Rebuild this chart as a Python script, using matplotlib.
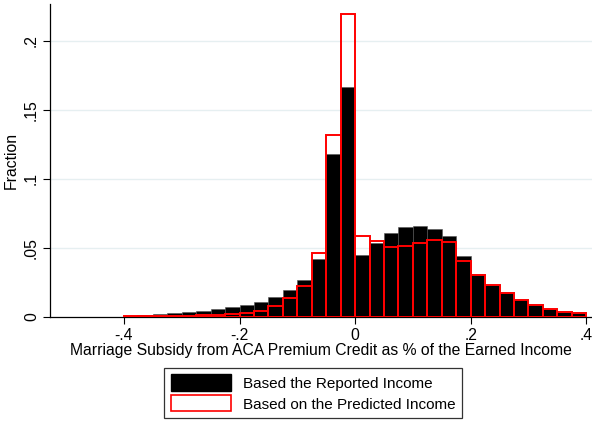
import numpy as np
import matplotlib
matplotlib.use('Agg')
import matplotlib.pyplot as plt
from matplotlib.patches import Patch

plt.rcParams['font.family'] = ['Liberation Sans', 'DejaVu Sans']

# histogram bins: 32 bins of width .025 starting at -.4
bin_start = -0.4
bin_width = 0.025

reported = [0.0007, 0.0015, 0.0020, 0.0029, 0.0034, 0.0043, 0.0058, 0.0072,
            0.0090, 0.0107, 0.0145, 0.0193, 0.0266, 0.0418, 0.1180, 0.1667,
            0.0447, 0.0536, 0.0607, 0.0650, 0.0657, 0.0636, 0.0585, 0.0440,
            0.0312, 0.0235, 0.0179, 0.0128, 0.0092, 0.0060, 0.0041, 0.0034]

predicted = [0.0005, 0.0007, 0.0008, 0.0010, 0.0010, 0.0013, 0.0018, 0.0025,
             0.0032, 0.0047, 0.0080, 0.0135, 0.0222, 0.0460, 0.1317, 0.2193,
             0.0587, 0.0550, 0.0510, 0.0517, 0.0534, 0.0560, 0.0544, 0.0404,
             0.0302, 0.0230, 0.0174, 0.0121, 0.0085, 0.0056, 0.0034, 0.0027]

xticks = [-0.4, -0.2, 0, 0.2, 0.4]
xtick_labels = ['-.4', '-.2', '0', '.2', '.4']
yticks = [0, 0.05, 0.1, 0.15, 0.2]
ytick_labels = ['0', '.05', '.1', '.15', '.2']

lefts = bin_start + bin_width * np.arange(len(reported))

fig = plt.figure(figsize=(5.92, 4.21), dpi=100)
ax = fig.add_axes([0.0845, 0.247, 0.9155, 0.7435])

ax.bar(lefts, reported, width=bin_width, align='edge', color='black',
       edgecolor='#555555', linewidth=0.4, zorder=2)
ax.bar(lefts, predicted, width=bin_width, align='edge', facecolor='none',
       edgecolor='#ff0000', linewidth=1.4, zorder=3)

ax.set_xlim(-0.528, 0.41)
ax.set_ylim(0, 0.2266)
ax.set_xticks(xticks)
ax.set_xticklabels(xtick_labels, fontsize=11.3)
ax.set_yticks(yticks)
ax.set_yticklabels(ytick_labels, fontsize=11.3, rotation=90, va='center')
ax.tick_params(direction='out', length=5, width=0.8, colors='black', pad=3)

for y in yticks[1:]:
    ax.axhline(y, color='#e6eff1', linewidth=1.0, zorder=0)

ax.spines['top'].set_visible(False)
ax.spines['right'].set_visible(False)
ax.spines['left'].set_linewidth(0.9)
ax.spines['bottom'].set_linewidth(0.9)

ax.set_xlabel('Marriage Subsidy from ACA Premium Credit as % of the Earned Income',
              fontsize=11.3, labelpad=0)
ax.set_ylabel('Fraction', fontsize=11.3, labelpad=4)

handles = [Patch(facecolor='black', edgecolor='black'),
           Patch(facecolor='white', edgecolor='#ff0000', linewidth=1.2)]
leg = fig.legend(handles, ['Based the Reported Income', 'Based on the Predicted Income'],
                 loc='center', bbox_to_anchor=(0.529, 0.0665), fontsize=11,
                 frameon=True, fancybox=False, edgecolor='black',
                 handlelength=3.9, handleheight=1.25, borderpad=0.45,
                 labelspacing=0.3, handletextpad=0.8)
leg.get_frame().set_linewidth(0.9)

fig.savefig('out.png', dpi=100)
